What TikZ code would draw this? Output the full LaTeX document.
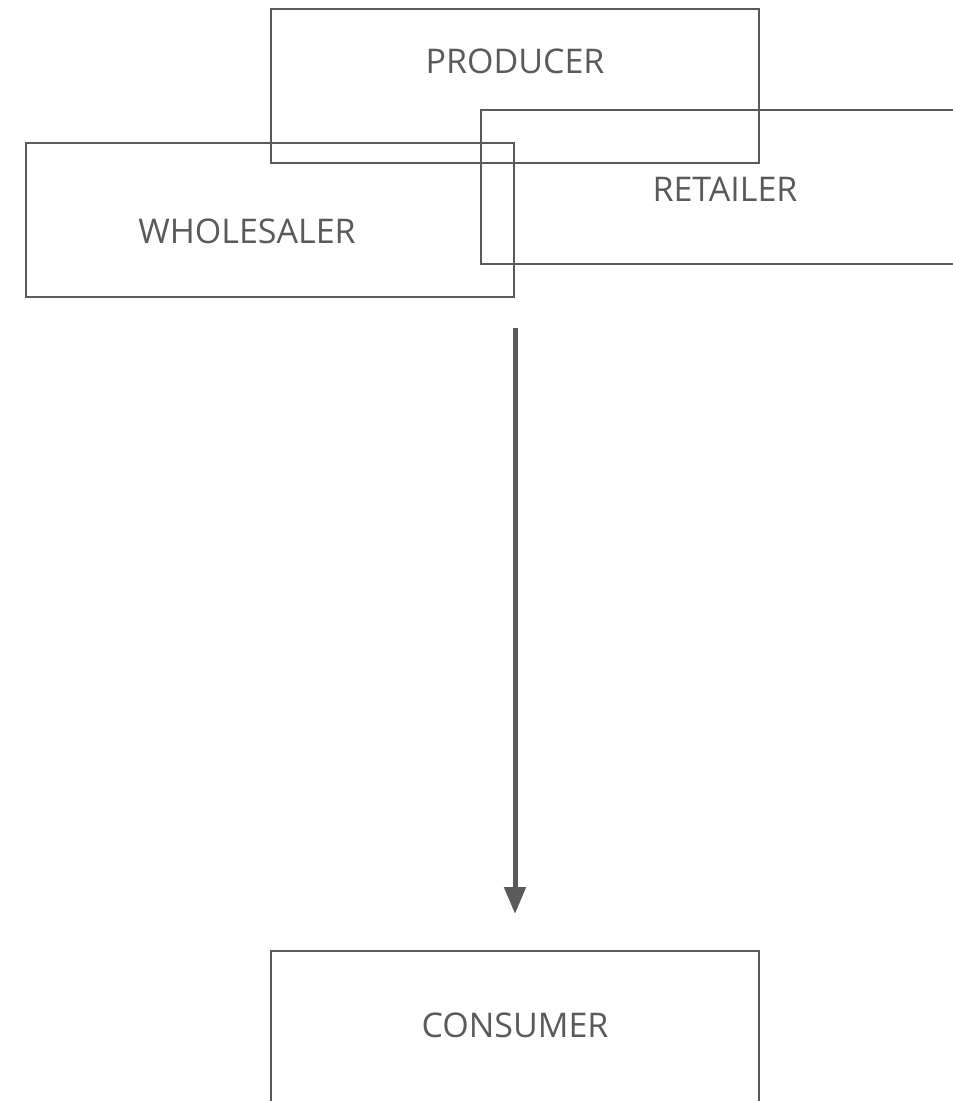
\documentclass[tikz,border=0pt]{standalone}
\usepackage{fontspec}
\setmainfont{Open Sans}
\usetikzlibrary{arrows.meta}
\definecolor{ink}{HTML}{5A5A5A}
\tikzset{
  stage/.style={draw=ink, line width=1.5pt, rectangle, minimum width=366pt, minimum height=115.5pt, inner sep=0pt},
  caption/.style={text=ink, font=\fontsize{25.5}{30}\selectfont, inner sep=0pt, anchor=center},
  flow/.style={draw=ink, line width=3.75pt, -{Triangle[length=20.25pt, width=15.75pt]}}
}
\begin{document}
\begin{tikzpicture}[x=0.75pt, y=-0.75pt]
  \clip (0,0) rectangle (953,1101);
  % channel members
  \node[stage] (producer) at (515,86) {};
  \node[stage] (retailer) at (725,187) {};
  \node[stage] (wholesaler) at (270,219.5) {};
  \node[stage] (consumer) at (515,1028) {};
  % labels
  \node[caption] (tproducer) at (515,61) {PRODUCER};
  \node[caption] (tretailer) at (725,189) {RETAILER};
  \node[caption] (twholesaler) at (247,231) {WHOLESALER};
  \node[caption] (tconsumer) at (515,1025) {CONSUMER};
  % flow towards the consumer
  \coordinate (start) at ([yshift=-22.5pt]wholesaler.south east);
  \coordinate (finish) at ([yshift=27pt]consumer.north);
  \draw[flow] (start) -- (finish);
\end{tikzpicture}
\end{document}
